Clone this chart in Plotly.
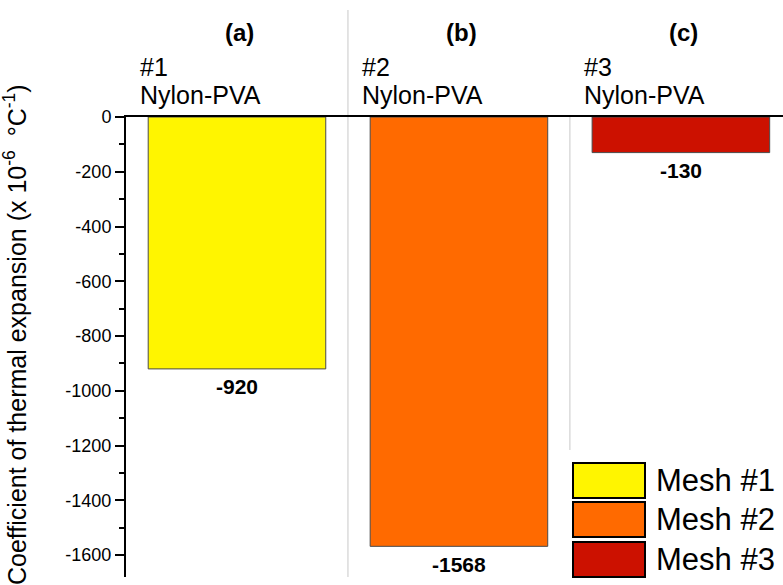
import plotly.graph_objects as go

# Coefficient of thermal expansion for three printed meshes
meshes = ["Mesh #1", "Mesh #2", "Mesh #3"]
panel_tags = ["(a)", "(b)", "(c)"]
mesh_ids = ["#1", "#2", "#3"]
materials = ["Nylon-PVA", "Nylon-PVA", "Nylon-PVA"]
cte_values = [-920, -1568, -130]
bar_colors = ["#FFF500", "#FF6A00", "#CC1100"]
y_tick_values = [0, -200, -400, -600, -800, -1000, -1200, -1400, -1600]

FONT = "Liberation Sans, Arial, sans-serif"
W, H = 783, 585
ML, MR, MT, MB = 126, 0, 117, 8
plot_w = W - ML - MR
plot_h = H - MT - MB


def px_x(px):
    return (px - ML) / plot_w


def px_y(py):
    return (H - MB - py) / plot_h


xpos = list(range(len(meshes)))

fig = go.Figure()
fig.add_trace(go.Bar(
    x=xpos,
    y=cte_values,
    width=0.8,
    marker=dict(color=bar_colors, line=dict(color="#4a4a4a", width=1)),
    showlegend=False,
    hoverinfo="skip",
))

annotations = []
for i, (tag, mid, mat, v) in enumerate(zip(panel_tags, mesh_ids, materials, cte_values)):
    # value under each bar
    annotations.append(dict(
        x=i, y=v, xref="x", yref="y", text=f"<b>{v}</b>", showarrow=False,
        yanchor="middle", yshift=-18,
        font=dict(family=FONT, size=21, color="black"),
    ))
    # panel letter
    annotations.append(dict(
        x=i, y=px_y(33), xref="x", yref="paper", text=f"<b>{tag}</b>",
        showarrow=False, xanchor="center", yanchor="middle", xshift=3,
        font=dict(family=FONT, size=24, color="black"),
    ))
    annotations.append(dict(
        x=i, y=px_y(67), xref="x", yref="paper", text=mid,
        showarrow=False, xanchor="left", yanchor="middle", xshift=-99,
        font=dict(family=FONT, size=25, color="black"),
    ))
    annotations.append(dict(
        x=i, y=px_y(95), xref="x", yref="paper", text=mat,
        showarrow=False, xanchor="left", yanchor="middle", xshift=-99,
        font=dict(family=FONT, size=25, color="black"),
    ))

# y-axis title
annotations.append(dict(
    x=px_x(15), y=px_y(335), xref="paper", yref="paper",
    text="Coefficient of thermal expansion (x 10<sup>-6</sup>  \u00b0C<sup>-1</sup>)",
    textangle=-90, showarrow=False, xanchor="center", yanchor="middle",
    font=dict(family=FONT, size=25, color="black"),
))

shapes = [
    dict(type="line", xref="x", yref="paper", x0=0.5, x1=0.5,
         y0=0, y1=px_y(10), line=dict(color="#c8c8c8", width=1), layer="below"),
    dict(type="line", xref="x", yref="paper", x0=1.5, x1=1.5,
         y0=px_y(450), y1=1, line=dict(color="#c8c8c8", width=1), layer="below"),
]

# legend swatches
box_tops = [463, 502, 542]
box_h = 35
for name, col, top in zip(meshes, bar_colors, box_tops):
    shapes.append(dict(
        type="rect", xref="paper", yref="paper",
        x0=px_x(573), x1=px_x(645), y0=px_y(top + box_h), y1=px_y(top),
        fillcolor=col, line=dict(color="black", width=2), layer="above",
    ))
    annotations.append(dict(
        x=px_x(654), y=px_y(top + box_h / 2), xref="paper", yref="paper",
        text=name, showarrow=False, xanchor="left", yanchor="middle",
        font=dict(family=FONT, size=31, color="black"),
    ))

fig.update_layout(
    width=W, height=H,
    margin=dict(l=ML, r=MR, t=MT, b=MB, pad=0),
    paper_bgcolor="white", plot_bgcolor="white",
    font=dict(family=FONT, color="black"),
    annotations=annotations,
    shapes=shapes,
    bargap=0.2,
    xaxis=dict(
        range=[-0.5, 2.46], side="top", showline=True, linecolor="black",
        linewidth=2, showgrid=False, zeroline=False, showticklabels=False,
        ticks="",
    ),
    yaxis=dict(
        range=[-1680, 0], showline=True, linecolor="black", linewidth=2,
        showgrid=False, zeroline=False, ticks="outside", ticklen=9,
        tickwidth=2, tickcolor="black", tickvals=y_tick_values,
        ticktext=[str(v) for v in y_tick_values],
        tickfont=dict(family=FONT, size=18, color="black"),
        minor=dict(dtick=100, ticks="outside", ticklen=5, tickwidth=2,
                   tickcolor="black", tick0=0),
        automargin=False,
    ),
)

fig.write_html("out.html")
